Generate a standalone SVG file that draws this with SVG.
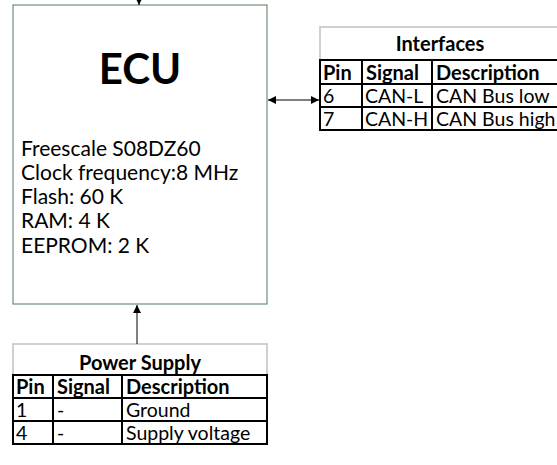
<svg xmlns="http://www.w3.org/2000/svg" width="557" height="465" viewBox="0 0 557 465">
<defs>
<marker id="ah" viewBox="0 0 10 10" refX="10" refY="5" markerWidth="8" markerHeight="8" markerUnits="userSpaceOnUse" orient="auto-start-reverse">
<path d="M0,0 L10,5 L0,10 z" fill="#000"/>
</marker>
<style>
text{font-family:Lato,"Liberation Sans",sans-serif;fill:#000}
.t{font-size:19.5px}
.e{font-size:21px}
.b{font-size:20px;font-weight:bold}
.title{fill:#fff;stroke:#d0d0d0;stroke-width:2}
.cell{fill:#fff;stroke:#000;stroke-width:2}
.conn{stroke:#000;stroke-width:1;fill:none}
</style>
</defs>
<rect width="557" height="465" fill="#fff"/>
<g id="ecu">
<rect x="13" y="5" width="254" height="299" fill="#fff" stroke="#4e7a5b" stroke-width="1"/>
<text x="140" y="84" text-anchor="middle" style="font-size:42px;font-weight:bold">ECU</text>
<text class="e" x="21" y="156">Freescale S08DZ60</text>
<text class="e" x="21" y="180">Clock frequency:8 MHz</text>
<text class="e" x="21" y="204">Flash: 60 K</text>
<text class="e" x="21" y="228">RAM: 4 K</text>
<text class="e" x="21" y="253">EEPROM: 2 K</text>
</g>
<g id="interfaces">
<rect class="title" x="320" y="27" width="240" height="33"/>
<text class="b" x="440" y="51" text-anchor="middle">Interfaces</text>
<rect class="cell" x="320" y="60" width="42" height="24"/>
<rect class="cell" x="362" y="60" width="70" height="24"/>
<rect class="cell" x="432" y="60" width="128" height="24"/>
<rect class="cell" x="320" y="84" width="42" height="23"/>
<rect class="cell" x="362" y="84" width="70" height="23"/>
<rect class="cell" x="432" y="84" width="128" height="23"/>
<rect class="cell" x="320" y="107" width="42" height="23"/>
<rect class="cell" x="362" y="107" width="70" height="23"/>
<rect class="cell" x="432" y="107" width="128" height="23"/>
<text class="b" x="323" y="80">Pin</text>
<text class="b" x="366" y="80">Signal</text>
<text class="b" x="436" y="80">Description</text>
<text class="t" x="323" y="103">6</text>
<text class="t" x="365" y="103">CAN-L</text>
<text class="t" x="436" y="103">CAN Bus low</text>
<text class="t" x="323" y="126">7</text>
<text class="t" x="365" y="126">CAN-H</text>
<text class="t" x="436" y="126">CAN Bus high</text>
</g>
<g id="power">
<rect class="title" x="13" y="344" width="254" height="31"/>
<text class="b" x="140" y="370" text-anchor="middle">Power Supply</text>
<rect class="cell" x="13" y="375" width="40" height="23"/>
<rect class="cell" x="53" y="375" width="69" height="23"/>
<rect class="cell" x="122" y="375" width="145" height="23"/>
<rect class="cell" x="13" y="398" width="40" height="23"/>
<rect class="cell" x="53" y="398" width="69" height="23"/>
<rect class="cell" x="122" y="398" width="145" height="23"/>
<rect class="cell" x="13" y="421" width="40" height="23"/>
<rect class="cell" x="53" y="421" width="69" height="23"/>
<rect class="cell" x="122" y="421" width="145" height="23"/>
<text class="b" x="16" y="394">Pin</text>
<text class="b" x="57" y="394">Signal</text>
<text class="b" x="126" y="394">Description</text>
<text class="t" x="16" y="417">1</text>
<text class="t" x="57" y="417">-</text>
<text class="t" x="126" y="417">Ground</text>
<text class="t" x="16" y="440">4</text>
<text class="t" x="57" y="440">-</text>
<text class="t" x="126" y="440">Supply voltage</text>
</g>
<g id="connectors">
<line class="conn" x1="139" y1="0" x2="139" y2="5" marker-end="url(#ah)"/>
<line class="conn" x1="137" y1="344" x2="137" y2="305" marker-end="url(#ah)"/>
<line class="conn" x1="268" y1="100" x2="319" y2="100" marker-start="url(#ah)" marker-end="url(#ah)"/>
</g>
</svg>
